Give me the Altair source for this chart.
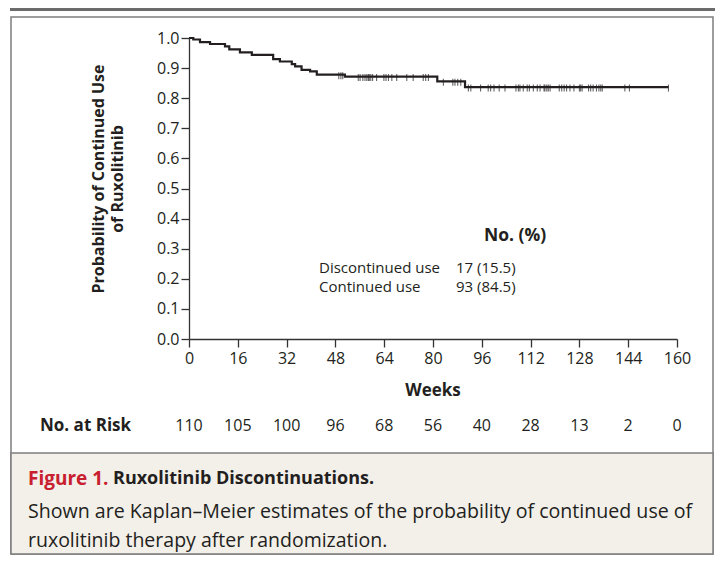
import altair as alt
import pandas as pd

# ---- data ----
step_weeks = [0, 1.4, 3.6, 6.9, 11.8, 13.2, 16.7, 20.6, 27.6, 29.8, 33.7, 34.8,
              36.9, 39.7, 41.9, 51.1, 81.4, 90.5, 157.2]
step_surv = [1.0, 0.995, 0.986, 0.980, 0.972, 0.962, 0.952, 0.944, 0.930, 0.922,
             0.913, 0.906, 0.894, 0.889, 0.878, 0.872, 0.856, 0.837, 0.837]

censor_weeks = [49.1, 49.8, 50.4, 55.5, 56.1, 57.0, 57.7, 58.3, 58.8, 59.1, 59.6,
                60.2, 61.5, 63.9, 64.6, 65.4, 66.5, 68.1, 71.4, 73.5, 76.8, 77.6,
                78.5, 83.4, 86.5, 87.2, 88.1, 89.1, 91.6, 92.4, 95.6, 98.1, 98.9,
                100.0, 101.7, 103.6, 107.2, 108.0, 108.5, 109.6, 110.9, 111.6,
                112.9, 114.2, 115.1, 116.4, 116.7, 117.3, 117.8, 118.4, 121.4,
                122.2, 123.0, 123.8, 124.9, 126.2, 128.0, 128.4, 128.9, 131.0,
                131.7, 132.5, 133.6, 134.4, 135.0, 135.5, 142.9, 144.4, 157.2]

x_ticks = [0, 16, 32, 48, 64, 80, 96, 112, 128, 144, 160]
y_ticks = [0.0, 0.1, 0.2, 0.3, 0.4, 0.5, 0.6, 0.7, 0.8, 0.9, 1.0]
risk_counts = [110, 105, 100, 96, 68, 56, 40, 28, 13, 2, 0]

legend_labels = ["Discontinued use", "Continued use"]
legend_values = ["17 (15.5)", "93 (84.5)"]

FONT = "Open Sans"
TXT = "#231f20"
FRAME = "#7d7d7d"
BEIGE = "#f3f0ea"
RED = "#c8202f"

# ---- tables ----
km = pd.DataFrame({"week": step_weeks, "surv": step_surv})


def level_at(t):
    lv = step_surv[0]
    for w, s in zip(step_weeks, step_surv):
        if w <= t:
            lv = s
    return lv


cens = pd.DataFrame({"week": censor_weeks,
                     "surv": [level_at(t) for t in censor_weeks]})
risk = pd.DataFrame({"week": x_ticks, "n": [str(c) for c in risk_counts]})
one = pd.DataFrame({"a": [0]})

W, H = 488, 301
PAD = {"left": 181, "top": 30, "right": 38, "bottom": 217}
BOTTOM = H + PAD["bottom"] - 2   # bottom edge of the frame, plot coordinates
RIGHT = W + PAD["right"] - 2     # right edge of the frame, plot coordinates

xscale = alt.Scale(domain=[0, 160], nice=False, zero=False)
yscale = alt.Scale(domain=[0, 1], nice=False)

axis_common = dict(title=None, tickSize=8, grid=False, labelFontSize=16,
                   labelFont=FONT, labelColor=TXT, domainColor="#333",
                   tickColor="#333", domainWidth=1.3, tickWidth=1.3, zindex=1,
                   labelOverlap=False, labelFlush=False, labelBound=False)
xaxis = alt.Axis(values=x_ticks, labelPadding=3, **axis_common)
yaxis = alt.Axis(values=y_ticks, format=".1f", labelPadding=2, **axis_common)

# ---- decoration (frame) ----
box = alt.Chart(one).mark_rect(fill="white", stroke=FRAME, strokeWidth=1.5).encode(
    x=alt.value(-178), x2=alt.value(RIGHT), y=alt.value(-21), y2=alt.value(BOTTOM))
beige = alt.Chart(one).mark_rect(fill=BEIGE, stroke=FRAME, strokeWidth=1.5).encode(
    x=alt.value(-178), x2=alt.value(RIGHT), y=alt.value(415), y2=alt.value(BOTTOM))
toprule = alt.Chart(one).mark_rule(color="#6b6b6b", strokeWidth=3).encode(
    x=alt.value(-179), x2=alt.value(RIGHT + 2), y=alt.value(-28.5))


def txt(s, x, y, size=14, bold=False, color=TXT, align="left", angle=0):
    kw = dict(font=FONT, fontSize=size, color=color, align=align,
              baseline="middle", fontWeight="bold" if bold else "normal")
    if angle:
        kw["angle"] = angle
    return alt.Chart(one).mark_text(**kw).encode(
        x=alt.value(x), y=alt.value(y), text=alt.value(s))


texts = [
    txt("Probability of Continued Use", -90, 141, size=16, bold=True, align="center", angle=270),
    txt("of Ruxolitinib", -71, 141, size=16, bold=True, align="center", angle=270),
    txt("Weeks", W / 2, 353, size=17, bold=True, align="center"),
    txt("No. at Risk", -149, 388, size=17, bold=True),
    txt("No. (%)", 295, 198, size=17.5, bold=True),
    txt(legend_labels[0], 130, 230, size=15),
    txt(legend_values[0], 267, 230, size=15),
    txt(legend_labels[1], 130, 249, size=15),
    txt(legend_values[1], 267, 249, size=15),
    txt("Figure 1.", -161, 441, size=19, bold=True, color=RED),
    txt("Ruxolitinib Discontinuations.", -76, 441, size=18, bold=True),
    txt("Shown are Kaplan\u2013Meier estimates of the probability of continued use of",
        -161, 474, size=19.6),
    txt("ruxolitinib therapy after randomization.", -161, 503, size=19.5),
]

# ---- data layers ----
line = alt.Chart(km).mark_line(interpolate="step-after", color=TXT, strokeWidth=2.2).encode(
    x=alt.X("week:Q", scale=xscale, axis=xaxis),
    y=alt.Y("surv:Q", scale=yscale, axis=yaxis),
)
ticks = alt.Chart(cens).mark_tick(orient="vertical", color=TXT, size=7, thickness=1.1,
                                  yOffset=1).encode(
    x=alt.X("week:Q", scale=xscale, axis=xaxis),
    y=alt.Y("surv:Q", scale=yscale, axis=yaxis))
risk_txt = alt.Chart(risk).mark_text(font=FONT, fontSize=16, color=TXT,
                                     baseline="middle").encode(
    x=alt.X("week:Q", scale=xscale, axis=xaxis), y=alt.value(388), text="n:N")

chart = alt.layer(box, beige, toprule, *texts, line, ticks, risk_txt).properties(
    width=W, height=H,
    autosize=alt.AutoSizeParams(type="none"),
    padding=PAD,
).configure_view(stroke=None).configure(background="white")

chart.save("out.html", embed_options={"renderer": "svg", "actions": False})
